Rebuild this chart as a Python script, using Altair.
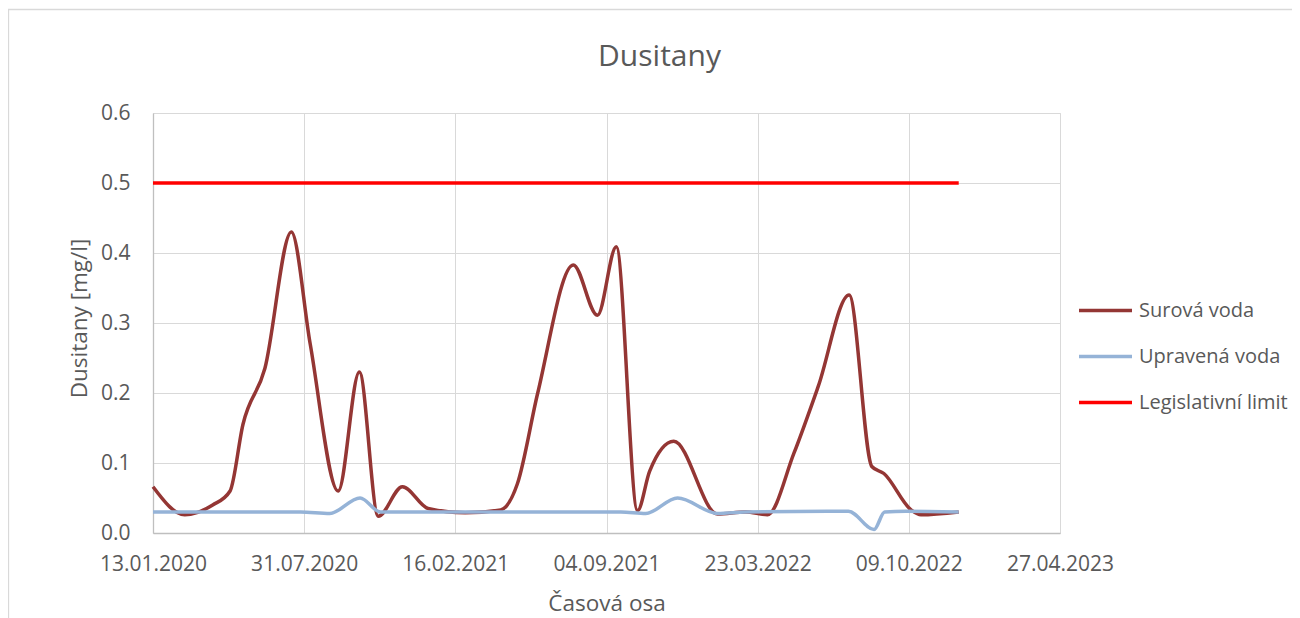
import altair as alt
import pandas as pd
from datetime import datetime

# ---- data ----
raw_dates = ["2020-01-13", "2020-02-24", "2020-04-01", "2020-04-24", "2020-05-11",
             "2020-06-09", "2020-07-14", "2020-08-08", "2020-09-14", "2020-10-12",
             "2020-11-06", "2020-12-08", "2021-01-11", "2021-03-01", "2021-04-17",
             "2021-05-09", "2021-06-05", "2021-07-22", "2021-08-23", "2021-09-17",
             "2021-10-15", "2021-10-31", "2021-12-02", "2022-01-29", "2022-03-07",
             "2022-04-05", "2022-05-10", "2022-06-11", "2022-07-22", "2022-08-21",
             "2022-09-06", "2022-10-12", "2022-10-25", "2022-12-14"]
raw_values = [0.066, 0.026, 0.040, 0.060, 0.155,
              0.235, 0.430, 0.270, 0.060, 0.230,
              0.024, 0.066, 0.035, 0.029, 0.033,
              0.070, 0.200, 0.383, 0.311, 0.409,
              0.032, 0.088, 0.131, 0.027, 0.030,
              0.026, 0.114, 0.209, 0.340, 0.095,
              0.085, 0.033, 0.026, 0.030]

treated_dates = ["2020-01-13", "2020-07-26", "2020-09-03", "2020-10-13", "2020-11-09",
                 "2021-01-01", "2021-09-23", "2021-10-26", "2021-12-07", "2022-01-29",
                 "2022-03-07", "2022-07-21", "2022-08-24", "2022-09-07", "2022-10-05",
                 "2022-12-14"]
treated_values = [0.030, 0.030, 0.028, 0.050, 0.030,
                  0.030, 0.030, 0.028, 0.050, 0.028,
                  0.030, 0.031, 0.005, 0.030, 0.031,
                  0.030]

limit_dates = ["2020-01-13", "2022-12-14"]
limit_values = [0.5, 0.5]

series_names = ["Surová voda", "Upravená voda", "Legislativní limit"]
series_colors = ["#943634", "#95B3D7", "#FF0000"]

x_tick_labels = ["13.01.2020", "31.07.2020", "16.02.2021", "04.09.2021",
                 "23.03.2022", "09.10.2022", "27.04.2023"]
y_ticks = [0.0, 0.1, 0.2, 0.3, 0.4, 0.5, 0.6]

# ---- tables ----
df_raw = pd.DataFrame({"date": raw_dates, "value": raw_values, "series": series_names[0]})
df_treated = pd.DataFrame({"date": treated_dates, "value": treated_values, "series": series_names[1]})
df_limit = pd.DataFrame({"date": limit_dates, "value": limit_values, "series": series_names[2]})


def to_dt(label):
    d = datetime.strptime(label, "%d.%m.%Y")
    return alt.DateTime(year=d.year, month=d.month, date=d.day, utc=True)


x_values = [to_dt(s) for s in x_tick_labels]

FONT = "Open Sans"
TXT = "#595959"

x_enc = alt.X(
    "date:T",
    scale=alt.Scale(type="utc", domain=[x_values[0], x_values[-1]]),
    axis=alt.Axis(
        values=x_values,
        labelExpr="utcFormat(datum.value, '%d.%m.%Y')",
        title="Časová osa",
        grid=True, gridColor="#d9d9d9", gridWidth=1,
        domainColor="#bfbfbf", domainWidth=1.3,
        ticks=False, tickSize=0,
        labelFont=FONT, labelFontSize=21, labelColor=TXT, labelPadding=20,
        labelOverlap=False, labelFlush=False,
        titleFont=FONT, titleFontSize=22.5, titleColor=TXT, titleFontWeight="normal",
        titleBaseline="alphabetic", titleY=77,
    ),
)
y_enc = alt.Y(
    "value:Q",
    scale=alt.Scale(domain=[0, 0.6], nice=False, zero=True),
    axis=alt.Axis(
        values=y_ticks, format=".1f",
        title="Dusitany [mg/l]",
        grid=True, gridColor="#d9d9d9", gridWidth=1,
        domainColor="#bfbfbf", domainWidth=1.3,
        ticks=False, tickSize=0,
        labelFont=FONT, labelFontSize=21, labelColor=TXT, labelPadding=23,
        titleFont=FONT, titleFontSize=22.5, titleColor=TXT, titleFontWeight="normal",
        titleBaseline="alphabetic", titleX=-67, titleY=205,
    ),
)
color_enc = alt.Color(
    "series:N",
    scale=alt.Scale(domain=series_names, range=series_colors),
    sort=series_names,
    legend=alt.Legend(
        orient="none", legendX=924, legendY=169, title=None,
        symbolType="stroke", symbolSize=2809, symbolStrokeWidth=3.5,
        labelFont=FONT, labelFontSize=20, labelColor=TXT, labelOffset=5,
        rowPadding=7,
    ),
)

frame = alt.Chart(pd.DataFrame({"k": [0]})).mark_rect(
    filled=False, stroke="#d9d9d9", strokeWidth=1.3
).encode(
    x=alt.value(-144.5), y=alt.value(-103.5), x2=alt.value(1400), y2=alt.value(800)
)

raw_line = alt.Chart(df_raw).mark_line(interpolate="monotone", strokeWidth=3.5).encode(
    x=x_enc, y=y_enc, color=color_enc)
treated_line = alt.Chart(df_treated).mark_line(interpolate="monotone", strokeWidth=3.5).encode(
    x=x_enc, y=y_enc, color=color_enc)
limit_line = alt.Chart(df_limit).mark_line(strokeWidth=3.5).encode(
    x=x_enc, y=y_enc, color=color_enc)

chart = alt.layer(frame, raw_line, treated_line, limit_line).properties(
    width=907, height=420,
    title=alt.TitleParams(
        "Dusitany", font=FONT, fontSize=30, fontWeight="normal", color=TXT,
        anchor="middle", frame="group", dx=53, dy=87, baseline="alphabetic", offset=0,
    ),
    autosize=alt.AutoSizeParams(type="none"),
    padding={"left": 145, "top": 105, "right": 232, "bottom": 85},
).configure_view(strokeWidth=0).configure(background="white")

chart.save("out.html", embed_options={"renderer": "svg", "actions": False})
